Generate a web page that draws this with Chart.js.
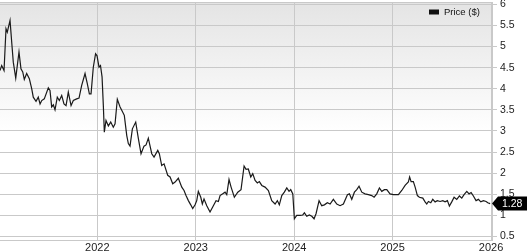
<!DOCTYPE html>
<html>
<head>
<meta charset="utf-8">
<script src="https://cdn.jsdelivr.net/npm/chart.js@4.4.1/dist/chart.umd.min.js"></script>
<style>
  html, body { margin: 0; padding: 0; background: #ffffff; }
  #wrap { width: 527px; height: 251px; }
</style>
</head>
<body>
<div id="wrap"><canvas id="c" width="527" height="251"></canvas></div>
<script>
// ---- data (decimal years, price in $) ----
const dates = [
  2021.011, 2021.028, 2021.052, 2021.072, 2021.085, 2021.113, 2021.130, 2021.146, 2021.171, 2021.204,
  2021.224, 2021.242, 2021.258, 2021.282, 2021.309, 2021.333, 2021.349, 2021.377, 2021.400, 2021.418,
  2021.435, 2021.461, 2021.502, 2021.519, 2021.536, 2021.553, 2021.570, 2021.593, 2021.614, 2021.638,
  2021.661, 2021.682, 2021.705, 2021.733, 2021.756, 2021.790, 2021.814, 2021.841, 2021.875, 2021.898,
  2021.919, 2021.936, 2021.959, 2021.982, 2021.997, 2022.017, 2022.032, 2022.048, 2022.061, 2022.071,
  2022.088, 2022.112, 2022.136, 2022.162, 2022.180, 2022.203, 2022.231, 2022.248, 2022.274, 2022.299,
  2022.315, 2022.332, 2022.356, 2022.390, 2022.417, 2022.444, 2022.474, 2022.495, 2022.518, 2022.553,
  2022.576, 2022.614, 2022.630, 2022.654, 2022.678, 2022.715, 2022.739, 2022.766, 2022.790, 2022.823,
  2022.858, 2022.881, 2022.901, 2022.925, 2022.949, 2022.969, 2022.993, 2023.010, 2023.026, 2023.051,
  2023.067, 2023.084, 2023.112, 2023.145, 2023.179, 2023.206, 2023.230, 2023.247, 2023.274, 2023.298,
  2023.315, 2023.338, 2023.359, 2023.392, 2023.427, 2023.460, 2023.491, 2023.511, 2023.534, 2023.559,
  2023.579, 2023.603, 2023.626, 2023.646, 2023.671, 2023.704, 2023.738, 2023.772, 2023.806, 2023.829,
  2023.849, 2023.874, 2023.900, 2023.925, 2023.948, 2023.965, 2023.986, 2024.002, 2024.026, 2024.060,
  2024.087, 2024.104, 2024.128, 2024.154, 2024.179, 2024.202, 2024.222, 2024.253, 2024.280, 2024.307,
  2024.337, 2024.365, 2024.398, 2024.433, 2024.466, 2024.500, 2024.541, 2024.561, 2024.585, 2024.612,
  2024.636, 2024.659, 2024.687, 2024.720, 2024.754, 2024.788, 2024.812, 2024.839, 2024.866, 2024.890,
  2024.917, 2024.941, 2024.974, 2025.008, 2025.059, 2025.093, 2025.127, 2025.160, 2025.173, 2025.188,
  2025.211, 2025.229, 2025.252, 2025.272, 2025.307, 2025.330, 2025.347, 2025.364, 2025.388, 2025.408,
  2025.432, 2025.455, 2025.483, 2025.510, 2025.533, 2025.557, 2025.577, 2025.601, 2025.625, 2025.652,
  2025.679, 2025.703, 2025.726, 2025.754, 2025.777, 2025.798, 2025.821, 2025.848, 2025.872, 2025.896,
  2025.923, 2025.950, 2025.967, 2025.991
];
const prices = [
  4.43, 4.55, 4.43, 5.42, 5.34, 5.62, 5.10, 4.63, 4.25, 4.87,
  4.47, 4.40, 4.22, 4.36, 4.24, 4.00, 3.80, 3.70, 3.80, 3.64,
  3.72, 3.76, 4.02, 3.96, 3.57, 3.62, 3.50, 3.80, 3.72, 3.84,
  3.64, 3.60, 3.92, 3.60, 3.72, 3.76, 3.78, 4.08, 4.36, 4.12,
  3.88, 3.88, 4.51, 4.83, 4.78, 4.51, 4.55, 4.28, 3.60, 2.97,
  3.25, 3.12, 3.21, 3.09, 3.17, 3.75, 3.57, 3.49, 3.37, 2.89,
  2.70, 2.64, 3.05, 3.21, 2.82, 2.46, 2.64, 2.67, 2.83, 2.46,
  2.38, 2.54, 2.46, 2.18, 2.22, 1.95, 1.91, 1.75, 1.79, 1.88,
  1.67, 1.59, 1.47, 1.35, 1.25, 1.16, 1.25, 1.35, 1.57, 1.43,
  1.27, 1.39, 1.23, 1.08, 1.23, 1.35, 1.33, 1.47, 1.51, 1.55,
  1.49, 1.85, 1.67, 1.43, 1.55, 1.61, 2.17, 2.09, 2.10, 1.91,
  1.99, 1.83, 1.77, 1.80, 1.71, 1.67, 1.59, 1.35, 1.27, 1.35,
  1.25, 1.47, 1.55, 1.65, 1.57, 1.61, 1.51, 0.92, 1.00, 1.00,
  1.01, 1.06, 0.98, 1.01, 0.98, 0.92, 1.04, 1.35, 1.23, 1.25,
  1.30, 1.27, 1.38, 1.27, 1.23, 1.27, 1.49, 1.51, 1.38, 1.55,
  1.61, 1.69, 1.55, 1.51, 1.49, 1.47, 1.43, 1.51, 1.65, 1.57,
  1.61, 1.61, 1.51, 1.49, 1.49, 1.59, 1.71, 1.79, 1.91, 1.80,
  1.80, 1.67, 1.47, 1.43, 1.41, 1.32, 1.27, 1.33, 1.30, 1.38,
  1.32, 1.35, 1.33, 1.35, 1.32, 1.35, 1.22, 1.32, 1.43, 1.38,
  1.46, 1.41, 1.49, 1.57, 1.51, 1.54, 1.46, 1.35, 1.38, 1.32,
  1.35, 1.33, 1.30, 1.28
];
const xTicks = [2022, 2023, 2024, 2025, 2026];
const yTicks = [0.5, 1, 1.5, 2, 2.5, 3, 3.5, 4, 4.5, 5, 5.5, 6];
const seriesLabel = 'Price ($)';

// ---- styling / layout ----
const FONT = 'Liberation Sans, Arial, Helvetica, sans-serif';
const GRID = '#c9c9c9';
const TEXT = '#222222';

const points = dates.map((d, i) => ({ x: d, y: prices[i] }));

const bgPlugin = {
  id: 'bg',
  beforeDraw(chart) {
    const { ctx, chartArea: a } = chart;
    const g = ctx.createLinearGradient(0, a.top, 0, a.top + 130);
    g.addColorStop(0, '#e4e4e4');
    g.addColorStop(1, '#ffffff');
    ctx.save();
    ctx.fillStyle = g;
    ctx.fillRect(a.left, a.top, a.right - a.left, a.bottom - a.top);
    ctx.restore();
  },
  afterDraw(chart) {
    const { ctx, chartArea: a } = chart;
    ctx.save();
    // top border
    ctx.strokeStyle = GRID;
    ctx.lineWidth = 1;
    ctx.beginPath();
    ctx.moveTo(a.left, a.top + 0.5);
    ctx.lineTo(a.right, a.top + 0.5);
    ctx.stroke();

    // legend
    const lx = a.right - 63;
    const ly = a.top + 10;
    ctx.fillStyle = '#111111';
    ctx.fillRect(lx, ly - 2.5, 10, 5);
    ctx.font = '9.5px ' + FONT;
    ctx.textBaseline = 'middle';
    ctx.textAlign = 'left';
    ctx.fillStyle = '#111111';
    ctx.fillText(chart.data.datasets[0].label, lx + 15, ly);

    // last price tag
    const ds = chart.data.datasets[0].data;
    const last = ds[ds.length - 1].y;
    const y = chart.scales.y.getPixelForValue(last);
    const x0 = a.right;
    ctx.fillStyle = '#000000';
    ctx.beginPath();
    ctx.moveTo(x0, y);
    ctx.lineTo(x0 + 6, y - 7);
    ctx.lineTo(chart.width, y - 7);
    ctx.lineTo(chart.width, y + 7);
    ctx.lineTo(x0 + 6, y + 7);
    ctx.closePath();
    ctx.fill();
    ctx.fillStyle = '#ffffff';
    ctx.font = '10.5px ' + FONT;
    ctx.textBaseline = 'middle';
    ctx.fillText(last.toFixed(2), x0 + 10, y + 0.5);
    ctx.restore();
  }
};

new Chart(document.getElementById('c'), {
  type: 'line',
  data: {
    datasets: [{
      label: seriesLabel,
      data: points,
      borderColor: '#1a1a1a',
      borderWidth: 1.2,
      pointRadius: 0,
      tension: 0,
      fill: false
    }]
  },
  options: {
    responsive: false,
    animation: false,
    devicePixelRatio: 1,
    layout: { padding: { top: 2, left: 0, right: 0, bottom: 0 } },
    plugins: { legend: { display: false }, tooltip: { enabled: false } },
    scales: {
      x: {
        type: 'linear',
        min: 2021.011,
        max: 2026.010,
        afterBuildTicks: a => { a.ticks = xTicks.map(v => ({ value: v })); },
        afterFit: a => { a.height = 10.5; a.paddingLeft = 0; a.paddingRight = 0; },
        grid: { color: GRID, lineWidth: 1, drawTicks: false },
        border: { color: GRID },
        ticks: {
          padding: 1, maxRotation: 0, autoSkip: false, color: TEXT,
          font: { family: FONT, size: 11 },
          callback: v => String(v)
        }
      },
      y: {
        position: 'right',
        min: 0.4053,
        max: 6.0545,
        afterBuildTicks: a => { a.ticks = yTicks.map(v => ({ value: v })); },
        afterFit: a => { a.width = 35; a.paddingTop = 0; a.paddingBottom = 0; },
        grid: { color: GRID, lineWidth: 1, drawTicks: true, tickLength: 5 },
        border: { color: GRID },
        ticks: {
          padding: 3, color: TEXT,
          font: { family: FONT, size: 10.5 },
          callback: v => String(v)
        }
      }
    }
  },
  plugins: [bgPlugin]
});
</script>
</body>
</html>
